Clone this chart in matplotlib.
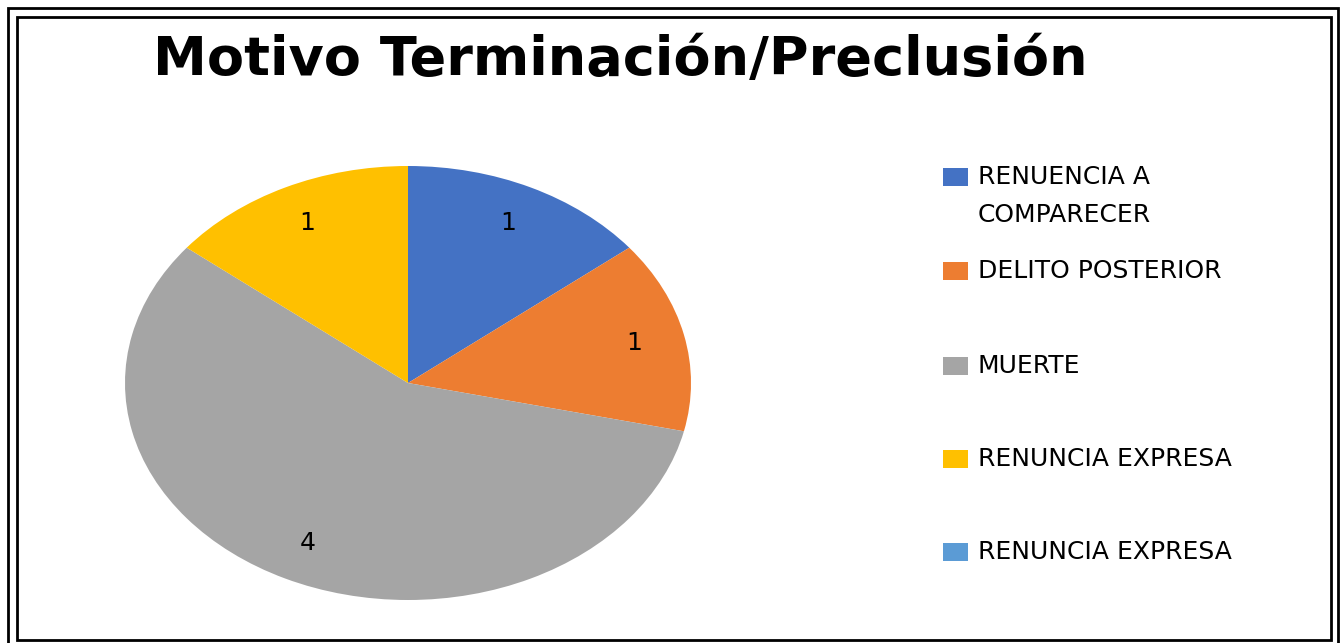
import matplotlib.pyplot as plt
from matplotlib.patches import Rectangle

# data
labels = ['RENUENCIA A\nCOMPARECER', 'DELITO POSTERIOR', 'MUERTE',
          'RENUNCIA EXPRESA', 'RENUNCIA EXPRESA']
values = [1, 1, 4, 1, 0]
colors = ['#4472C4', '#ED7D31', '#A5A5A5', '#FFC000', '#5B9BD5']
title = 'Motivo Terminación/Preclusión'

W, H = 1340, 643
fig = plt.figure(figsize=(W / 100, H / 100), dpi=100)

def px(x, y):
    # pixel (from top-left) -> figure fraction
    return x / W, 1 - y / H

# double frame
for (x0, y0, x1, y1) in [(8, 8, 1338, 660), (17, 17, 1331, 640)]:
    fig.patches.append(Rectangle((x0 / W, 1 - y1 / H), (x1 - x0) / W, (y1 - y0) / H,
                                 transform=fig.transFigure, fill=False,
                                 edgecolor='black', linewidth=2))

# pie in an elliptical box
cx, cy, rx, ry = 408, 383, 283, 217
ax = fig.add_axes([(cx - rx) / W, 1 - (cy + ry) / H, 2 * rx / W, 2 * ry / H])
total = sum(values)

def fmt(p):
    n = int(round(p * total / 100))
    return str(n) if n > 0 else ''

ax.pie(values, colors=colors, startangle=90, counterclock=False,
       autopct=fmt, pctdistance=0.82,
       wedgeprops=dict(linewidth=0),
       textprops=dict(fontsize=18, color='black'))
ax.set_xlim(-1, 1)
ax.set_ylim(-1, 1)
ax.set_aspect('auto')
ax.axis('off')

# title
tx, ty = px(620, 60)
fig.text(tx, ty, title, fontsize=39, fontweight='bold', ha='center', va='center')

# legend drawn by hand
ys = [177, 271, 366, 459, 552]
for lab, col, y in zip(labels, colors, ys):
    fig.patches.append(Rectangle(px(943, y + 9), 25 / W, 18 / H,
                                 transform=fig.transFigure, facecolor=col,
                                 edgecolor='none'))
    lines = lab.split('\n')
    for i, line in enumerate(lines):
        lx, ly = px(978, y + i * 38)
        fig.text(lx, ly, line, fontsize=18, ha='left', va='center')

fig.savefig('out.png', dpi=100)
